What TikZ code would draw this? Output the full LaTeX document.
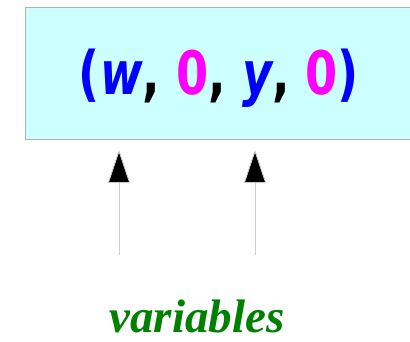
\documentclass[tikz,border=0pt]{standalone}
\usepackage{fontspec}
\setsansfont{DejaVu Sans}
\setmainfont{Liberation Serif}
\usetikzlibrary{arrows.meta}
\definecolor{boxfill}{HTML}{CCFFFF}
\definecolor{varblue}{HTML}{0000FF}
\definecolor{zeromag}{HTML}{FF00FF}
\definecolor{labgreen}{HTML}{008000}
\tikzset{
	pointer/.style={draw=black!20, line width=0.8pt, -{Triangle[length=33pt, width=22pt, fill=black]}},
}
\begin{document}
\begin{tikzpicture}[x=1pt, y=-1pt]
	\useasboundingbox (0,0) rectangle (410,341);
	\fill[boxfill] (25,7) rectangle (420,139);
	\draw[black!30, line width=1pt] (420,7) -- (25,7) -- (25,139) -- (420,139);
	\node[font=\sffamily\bfseries\fontsize{60}{62}\selectfont, xscale=0.77, inner sep=0] (tuple) at (219,78)
		{\textcolor{varblue}{(}\textcolor{varblue}{\itshape w}, \textcolor{zeromag}{0}, \textcolor{varblue}{\itshape y}, \textcolor{zeromag}{0}\textcolor{varblue}{)}};
	\coordinate (wtail) at (119,255);
	\coordinate (wtip) at (119,150);
	\coordinate (ytail) at (255,255);
	\coordinate (ytip) at (255,150);
	\draw[pointer] (wtail) -- (wtip);
	\draw[pointer] (ytail) -- (ytip);
	\node[font=\rmfamily\bfseries\itshape\fontsize{47}{50}\selectfont, text=labgreen, anchor=base] (vars) at (197,332) {variables};
\end{tikzpicture}
\end{document}
